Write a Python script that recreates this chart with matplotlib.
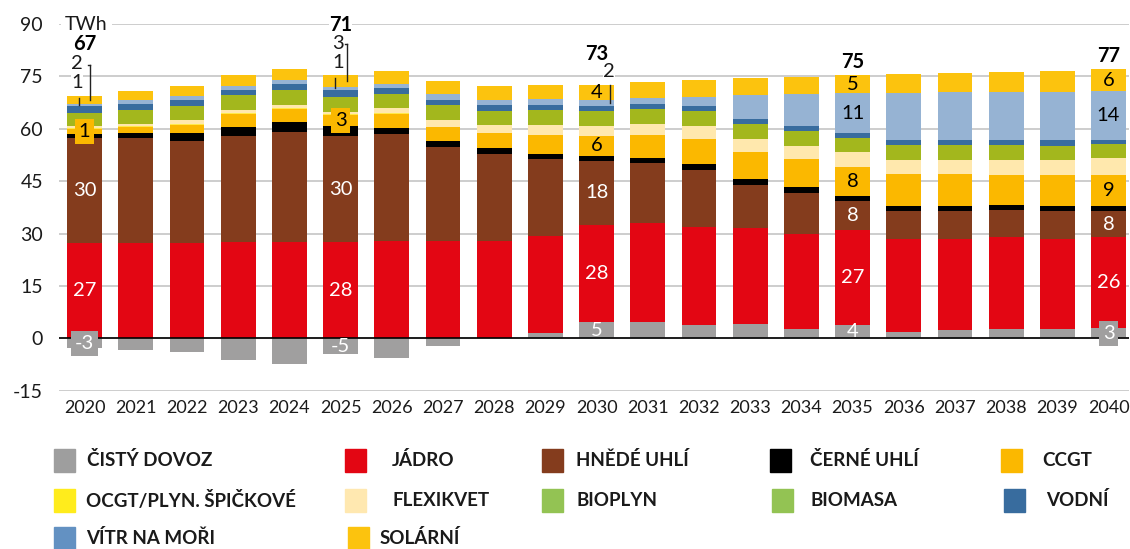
import matplotlib
matplotlib.use("Agg")
import matplotlib.pyplot as plt
from matplotlib.patches import Rectangle
import numpy as np

plt.rcParams['font.family'] = ['Lato', 'DejaVu Sans']
plt.rcParams['axes.unicode_minus'] = False

# data (TWh)
roky = list(range(2020, 2041))
dovoz = [-2.8, -3.3, -4.0, -6.2, -7.4, -4.6, -5.7, -2.3, 0.0, 1.4, 4.6,
         4.6, 3.9, 4.0, 2.6, 3.9, 1.7, 2.3, 2.8, 2.6, 3.0]
jadro = [27.2, 27.2, 27.2, 27.6, 27.6, 27.6, 27.8, 27.8, 27.8, 28.0, 27.9,
         28.3, 28.1, 27.7, 27.4, 27.0, 26.6, 26.2, 26.1, 25.9, 25.9]
hnede_uhli = [30.1, 30.1, 29.3, 30.3, 31.4, 30.3, 30.7, 26.9, 24.9, 21.9, 18.4,
              17.2, 16.1, 12.1, 11.6, 8.4, 8.1, 7.9, 7.8, 7.9, 7.6]
cerne_uhli = [1.2, 1.5, 2.3, 2.6, 2.9, 2.8, 1.7, 1.7, 1.7, 1.4, 1.3,
              1.6, 1.7, 1.7, 1.7, 1.5, 1.4, 1.5, 1.5, 1.4, 1.4]
ccgt = [1.4, 1.7, 2.2, 3.7, 3.7, 3.3, 4.0, 4.1, 4.4, 5.6, 5.8,
        6.6, 7.4, 7.8, 8.0, 8.3, 9.2, 9.1, 8.7, 8.9, 8.8]
ocgt = [0.3, 0.2, 0.3, 0.3, 0.3, 0.3, 0.2, 0.0, 0.0, 0.0, 0.0,
        0.0, 0.0, 0.0, 0.0, 0.0, 0.0, 0.0, 0.0, 0.0, 0.0]
flexikvet = [0.6, 0.6, 1.2, 0.8, 0.9, 0.5, 1.5, 2.0, 2.2, 2.7, 2.8,
             3.2, 3.5, 3.8, 3.9, 4.2, 4.2, 4.2, 4.3, 4.5, 4.8]
bioplyn = [2.0, 2.2, 2.2, 2.3, 2.3, 2.3, 2.2, 2.3, 2.2, 2.3, 2.4,
           2.2, 2.3, 2.2, 2.2, 2.2, 2.2, 2.2, 2.2, 2.1, 2.1]
biomasa = [1.7, 1.8, 1.8, 2.0, 2.0, 2.0, 1.8, 2.0, 1.8, 2.0, 2.0,
           1.9, 2.0, 2.0, 1.9, 2.0, 1.9, 1.9, 1.9, 1.9, 1.9]
vodni = [1.9, 1.7, 1.7, 1.5, 1.7, 2.0, 1.7, 1.4, 1.8, 1.5, 1.4,
         1.5, 1.4, 1.5, 1.5, 1.4, 1.4, 1.4, 1.4, 1.5, 1.3]
vitr_na_mori = [0.6, 1.2, 1.1, 1.1, 1.1, 0.9, 1.2, 1.7, 1.4, 1.6, 1.6,
                1.8, 2.8, 6.8, 9.2, 11.2, 13.6, 13.7, 13.8, 13.7, 14.0]
solarni = [2.4, 2.6, 2.9, 3.2, 3.2, 3.4, 3.7, 3.7, 4.0, 4.0, 4.4,
           4.5, 4.7, 4.8, 4.9, 5.3, 5.3, 5.5, 5.7, 6.0, 6.2]

W, H = 1130, 549
fig = plt.figure(figsize=(W / 100, H / 100), dpi=100)
ax = fig.add_axes([59 / W, 1 - 390.7 / H, 1070 / W, 366.7 / H])
ax.set_xlim(-0.5, 20.4)
ax.set_ylim(-15, 90)
ppx = 1070 / 20.9     # pixels per category
ppy = 366.7 / 105     # pixels per TWh

C_IMP = '#a09f9f'
stack = [
    ('jadro', jadro, '#e30613'),
    ('hnede', hnede_uhli, '#843c1d'),
    ('cerne', cerne_uhli, '#000000'),
    ('ccgt', ccgt, '#fbb800'),
    ('ocgt', ocgt, '#ffe94a'),
    ('flexi', flexikvet, '#ffe8ad'),
    ('bioplyn', bioplyn, '#a3b71d'),
    ('biomasa', biomasa, '#a3b71d'),
    ('vodni', vodni, '#386c9e'),
    ('vitr', vitr_na_mori, '#96b3d3'),
    ('solar', solarni, '#fcc30e'),
]

x = np.arange(len(roky))
w = 0.68
imp = np.array(dovoz)
ax.bar(x, imp, w, color=C_IMP, linewidth=0, zorder=2)
seg = {'dovoz': (np.zeros(len(x)), imp)}
cum = np.where(imp > 0, imp, 0.0)
for name, vals, col in stack:
    v = np.array(vals)
    ax.bar(x, v, w, bottom=cum, color=col, linewidth=0, zorder=2)
    seg[name] = (cum.copy(), cum + v)
    cum = cum + v
top = cum
total = top + np.minimum(imp, 0)

ax.set_yticks(range(-15, 91, 15))
ax.yaxis.grid(True, color='#c9c9c9', linewidth=1.3, zorder=0)
ax.set_axisbelow(True)
ax.axhline(0, color='black', linewidth=1.2, zorder=3)
for s in ax.spines.values():
    s.set_visible(False)
ax.set_xticks(x)
ax.set_xticklabels([str(r) for r in roky])
ax.tick_params(axis='y', length=0, pad=11.5, labelsize=14, labelcolor='#1a1a1a')
ax.tick_params(axis='x', length=0, pad=7, labelsize=13, labelcolor='#1a1a1a')

ax.text(-0.38, 90, 'TWh', fontsize=14, va='center', ha='left', color='#1a1a1a',
        bbox=dict(fc='white', ec='none', pad=3), zorder=4)

# labels inside the bars
dark = {'dovoz': 'white', 'jadro': 'white', 'hnede': 'white'}
inner = {0: ['dovoz', 'jadro', 'hnede', 'ccgt'],
         5: ['dovoz', 'jadro', 'hnede', 'ccgt'],
         10: ['dovoz', 'jadro', 'hnede', 'ccgt', 'solar'],
         15: ['dovoz', 'jadro', 'hnede', 'ccgt', 'vitr', 'solar'],
         20: ['dovoz', 'jadro', 'hnede', 'ccgt', 'vitr', 'solar']}
colors = dict((n, c) for n, _, c in stack)
colors['dovoz'] = C_IMP
for i, names in inner.items():
    for n in names:
        lo, hi = seg[n][0][i], seg[n][1][i]
        val = hi - lo
        kw = {}
        if abs(val) < 3.5:
            kw['bbox'] = dict(boxstyle='square,pad=0.2', fc=colors[n], ec='none')
        ax.text(x[i], (lo + hi) / 2, '%d' % round(val), ha='center', va='center',
                fontsize=14.5, color=dark.get(n, 'black'), zorder=5, **kw)

# totals first, so the smaller labels below them stay on top
tot_dy = {0: -52, 5: -50, 10: -31, 15: -13, 20: -13}
for i, dy in tot_dy.items():
    ax.text(x[i], top[i] - dy / ppy, '%d' % round(total[i]), ha='center', va='center',
            fontsize=14.5, fontweight='bold', color='black', zorder=5,
            bbox=dict(fc='white', ec='none', pad=0))

# labels above the bars with leader lines
# (year index, series, text dx px, text dy px, line dx px, line start px, tick)
outer = [(0, 'solar', -7.5, -32, 5.5, -31, True),
         (0, 'vitr', -7.5, -13, -5.5, 2, False),
         (5, 'solar', -2.5, -31, 6.5, -31, True),
         (5, 'vitr', -2.5, -12, -5.5, 3, False),
         (10, 'vitr', 12.5, -13, 13.5, 0, False)]
for i, n, tdx, tdy, ldx, lst, tick in outer:
    lo, hi = seg[n][0][i], seg[n][1][i]
    ax.text(x[i] + tdx / ppx, top[i] - tdy / ppy, '%d' % round(hi - lo),
            ha='center', va='center', fontsize=14.5, color='#1a1a1a', zorder=6,
            bbox=dict(fc='white', ec='none', pad=0))
    lx = x[i] + ldx / ppx
    y0 = top[i] - lst / ppy
    ax.plot([lx, lx], [y0, (lo + hi) / 2], color='#222222', linewidth=1, zorder=7)
    if tick:
        ax.plot([lx - 2.5 / ppx, lx], [y0, y0], color='#222222', linewidth=1, zorder=7)

# legend
legend_items = [
    ('ČISTÝ DOVOZ', '#9e9e9e', 54, 87, 460),
    ('JÁDRO', '#e30613', 345, 392, 460),
    ('HNĚDÉ UHLÍ', '#843c1d', 542, 576, 460),
    ('ČERNÉ UHLÍ', '#000000', 770, 810, 460),
    ('CCGT', '#fbb800', 1001, 1042, 460),
    ('OCGT/PLYN. ŠPIČKOVÉ', '#ffec1c', 54, 86, 500),
    ('FLEXIKVET', '#ffe8b0', 345, 392, 500),
    ('BIOPLYN', '#93c353', 542, 576, 500),
    ('BIOMASA', '#93c353', 772, 810, 500),
    ('VODNÍ', '#386c9e', 1004, 1046, 500),
    ('VÍTR NA MOŘI', '#6391c2', 54, 86, 538),
    ('SOLÁRNÍ', '#fcc30e', 348, 380, 538),
]
for label, col, px, tx, py in legend_items:
    fig.patches.append(Rectangle((px / W, 1 - (py + 11.5) / H), 21 / W, 23 / H,
                                 transform=fig.transFigure, color=col))
    fig.text(tx / W, 1 - py / H, label, fontsize=13.5, fontweight='bold',
             color='#1a1a1a', va='center', ha='left')

fig.savefig('out.png', dpi=100)
